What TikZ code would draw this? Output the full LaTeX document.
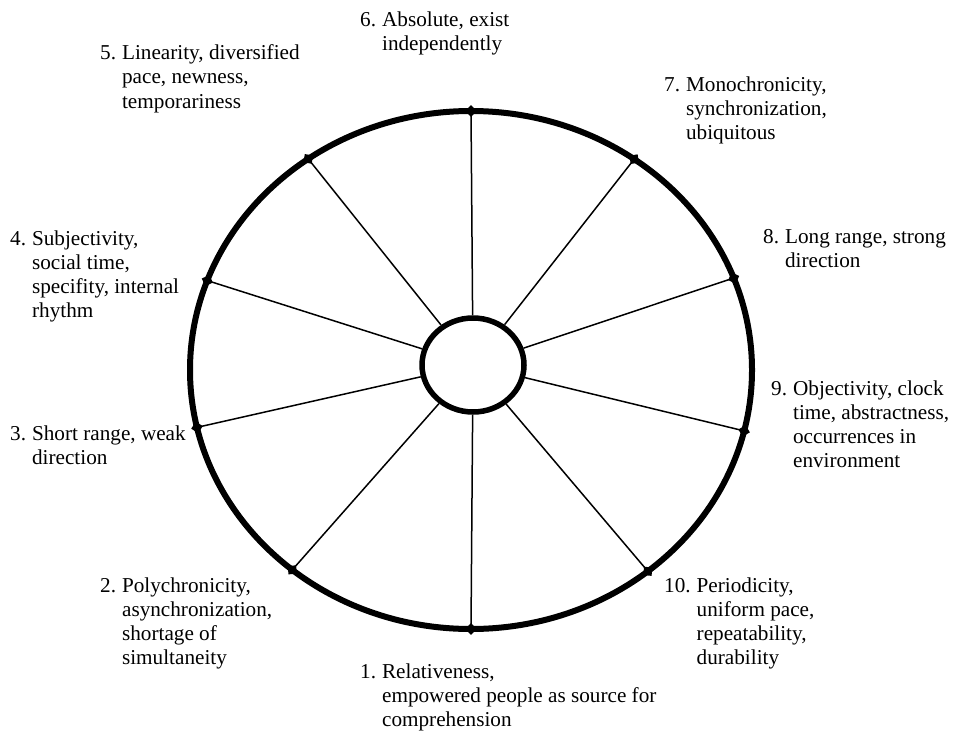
\documentclass[tikz,border=0pt]{standalone}
\usepackage{fontspec}
\setmainfont{Liberation Serif}
\usetikzlibrary{shapes.geometric}
\newcommand{\hang}[2]{\begin{tabular}[t]{@{}l@{\hspace{6pt}}l@{}}#1 & #2\end{tabular}}
\begin{document}
\begin{tikzpicture}[x=1pt,y=-1pt,
  rim/.style={line width=6pt},
  hubring/.style={line width=5.5pt},
  spoke/.style={line width=1.5pt},
  marker/.style={diamond,fill=black,inner sep=0pt,minimum size=12pt},
  lbl/.style={anchor=base west,inner sep=0pt,font=\fontsize{21.2}{24}\selectfont}]
\useasboundingbox (0,0) rectangle (957,733);
% outer rim
\draw[rim] (471,370) ellipse [x radius=281,y radius=259];
% hub
\node[ellipse,draw,hubring,minimum width=102pt,minimum height=94pt,inner sep=0pt] (hub) at (473,365) {};
% markers on the rim
\foreach \n/\t in {6/90,7/54.5,8/20.8,9/-13.6,10/-51,1/-90,2/230.5,3/192.8,4/159.8,5/125.4}{
  \node[marker,rotate=\t-90] (m\n) at ({471+281*cos(\t)},{370-259*sin(\t)}) {};
}
% spokes
\foreach \n in {1,...,10}{
  \draw[spoke] (hub) -- (m\n.center);
}
% labels
\node[lbl] (l6) at (360,27) {\hang{6.}{Absolute, exist\\ & independently}};
\node[lbl] (l5) at (100,60) {\hang{5.}{Linearity, diversified\\ & pace, newness,\\ & temporariness}};
\node[lbl] (l7) at (664,92) {\hang{7.}{Monochronicity,\\ & synchronization,\\ & ubiquitous}};
\node[lbl] (l8) at (763,243) {\hang{8.}{Long range, strong\\ & direction}};
\node[lbl] (l4) at (10,245) {\hang{4.}{Subjectivity,\\ & social time,\\ & specifity, internal\\ & rhythm}};
\node[lbl] (l3) at (10,440) {\hang{3.}{Short range, weak\\ & direction}};
\node[lbl] (l9) at (771,395) {\hang{9.}{Objectivity, clock\\ & time, abstractness,\\ & occurrences in\\ & environment}};
\node[lbl] (l2) at (100,592) {\hang{2.}{Polychronicity,\\ & asynchronization,\\ & shortage of\\ & simultaneity}};
\node[lbl] (l10) at (664,592) {\hang{10.}{Periodicity,\\ & uniform pace,\\ & repeatability,\\ & durability}};
\node[lbl] (l1) at (360,678) {\hang{1.}{Relativeness,\\ & empowered people as source for\\ & comprehension}};
\end{tikzpicture}
\end{document}
